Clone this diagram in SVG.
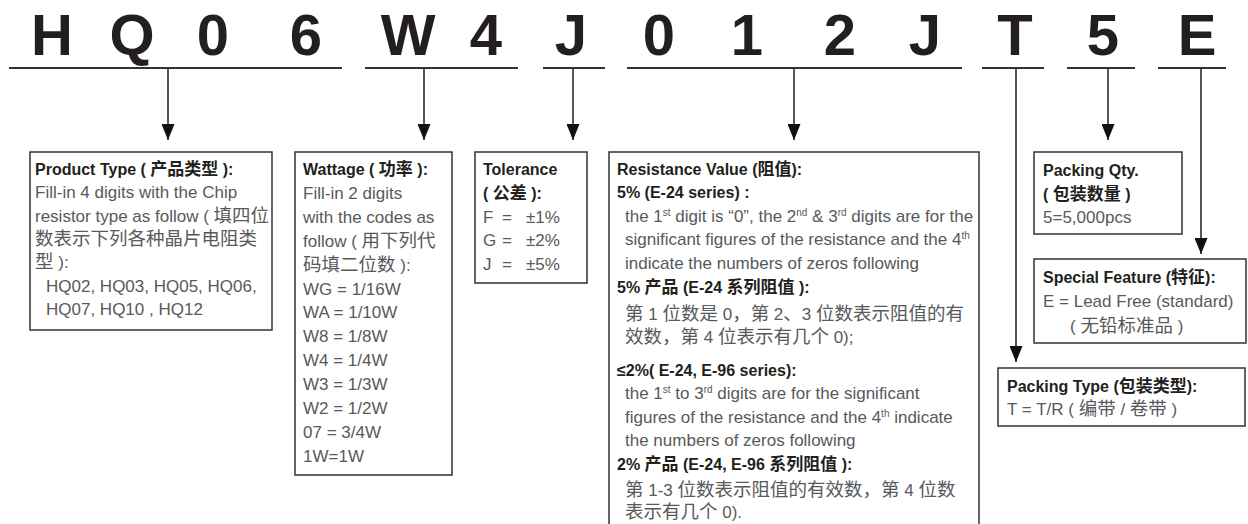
<svg xmlns="http://www.w3.org/2000/svg" width="1248" height="524" viewBox="0 0 1248 524">
<defs>
<marker id="ah" markerUnits="userSpaceOnUse" markerWidth="16" markerHeight="13" viewBox="0 0 16 13" refX="16" refY="6.5" orient="auto">
<path d="M0,0 L16,6.5 L0,13 z" fill="#111"/>
</marker>
</defs>
<style>
.code{font-family:"Liberation Sans","Noto Sans",sans-serif;font-weight:bold;font-size:58px;fill:#231f20;text-anchor:middle}
.ul{stroke:#333;stroke-width:2;fill:none}
.ar{stroke:#111;stroke-width:1.4;fill:none;marker-end:url(#ah)}
.ln{stroke:#111;stroke-width:1.4;fill:none}
.box{fill:#fff;stroke:#333;stroke-width:1.5}
text{font-family:"Liberation Sans","Noto Sans CJK SC",sans-serif}
.b{font-weight:bold;font-size:16px;fill:#231f20}
.t{font-size:17px;fill:#58595b}
.c{font-size:18.5px}
.cb{font-size:17px}
.sup{font-size:10px}
</style>
<rect width="1248" height="524" fill="#fff"/>
<g id="code">
<text class="code" x="52" y="55">H</text>
<text class="code" x="132" y="55">Q</text>
<text class="code" x="213" y="55">0</text>
<text class="code" x="306" y="55">6</text>
<text class="code" x="408" y="55">W</text>
<text class="code" x="486" y="55">4</text>
<text class="code" x="571" y="55">J</text>
<text class="code" x="659" y="55">0</text>
<text class="code" x="747" y="55">1</text>
<text class="code" x="840" y="55">2</text>
<text class="code" x="925" y="55">J</text>
<text class="code" x="1015" y="55">T</text>
<text class="code" x="1103" y="55">5</text>
<text class="code" x="1197" y="55">E</text>
</g>
<g id="connectors">
<line class="ul" x1="9" y1="68" x2="342" y2="68"/>
<line class="ul" x1="365" y1="68" x2="518" y2="68"/>
<line class="ul" x1="543" y1="68" x2="605" y2="68"/>
<line class="ul" x1="627" y1="68" x2="962" y2="68"/>
<line class="ul" x1="982" y1="68" x2="1044" y2="68"/>
<line class="ul" x1="1067" y1="68" x2="1135" y2="68"/>
<line class="ul" x1="1158" y1="68" x2="1226" y2="68"/>
<line class="ar" x1="168" y1="69" x2="168" y2="140"/>
<line class="ar" x1="424" y1="69" x2="424" y2="140"/>
<line class="ar" x1="573" y1="69" x2="573" y2="140"/>
<line class="ar" x1="794" y1="69" x2="794" y2="140"/>
<line class="ar" x1="1016" y1="69" x2="1016" y2="362"/>
<line class="ar" x1="1108" y1="69" x2="1108" y2="140"/>
<line class="ar" x1="1201" y1="69" x2="1201" y2="254"/>
</g>
<g id="product-type">
<rect class="box" x="30" y="152" width="242" height="178"/>
<text class="b" x="35" y="175">Product Type ( <tspan class="cb">产品类型</tspan> ):</text>
<text class="t" x="35" y="198">Fill-in 4 digits with the Chip</text>
<text class="t" x="35" y="222">resistor type as follow ( <tspan class="c">填四位</tspan></text>
<text class="t" x="35" y="245"><tspan class="c">数表示下列各种晶片电阻类</tspan></text>
<text class="t" x="35" y="268"><tspan class="c">型</tspan> ):</text>
<text class="t" x="46" y="292">HQ02, HQ03, HQ05, HQ06,</text>
<text class="t" x="46" y="315">HQ07, HQ10 , HQ12</text>
</g>
<g id="wattage">
<rect class="box" x="295" y="152" width="157" height="323"/>
<text class="b" x="303" y="175">Wattage ( <tspan class="cb">功率</tspan> ):</text>
<text class="t" x="303" y="199">Fill-in 2 digits</text>
<text class="t" x="303" y="223">with the codes as</text>
<text class="t" x="303" y="247">follow ( <tspan class="c">用下列代</tspan></text>
<text class="t" x="303" y="271"><tspan class="c">码填二位数</tspan> ):</text>
<text class="t" x="303" y="295">WG = 1/16W</text>
<text class="t" x="303" y="318">WA = 1/10W</text>
<text class="t" x="303" y="342">W8 = 1/8W</text>
<text class="t" x="303" y="366">W4 = 1/4W</text>
<text class="t" x="303" y="390">W3 = 1/3W</text>
<text class="t" x="303" y="414">W2 = 1/2W</text>
<text class="t" x="303" y="438">07 = 3/4W</text>
<text class="t" x="303" y="462">1W=1W</text>
</g>
<g id="tolerance">
<rect class="box" x="475" y="152" width="112" height="131"/>
<text class="b" x="483" y="175">Tolerance</text>
<text class="b" x="483" y="199">( <tspan class="cb">公差</tspan> ):</text>
<text class="t" x="483" y="223">F<tspan x="502">=</tspan><tspan x="526">±1%</tspan></text>
<text class="t" x="483" y="246">G<tspan x="502">=</tspan><tspan x="526">±2%</tspan></text>
<text class="t" x="483" y="270">J<tspan x="502">=</tspan><tspan x="526">±5%</tspan></text>
</g>
<g id="resistance">
<rect class="box" x="609" y="152" width="370" height="390"/>
<text class="b" x="617" y="175">Resistance Value (<tspan class="cb">阻值</tspan>):</text>
<text class="b" x="617" y="198">5% (E-24 series) :</text>
<text class="t" x="625" y="222">the 1<tspan class="sup" dy="-6">st</tspan><tspan dy="6"> digit is “0”, the 2</tspan><tspan class="sup" dy="-6">nd</tspan><tspan dy="6"> &amp; 3</tspan><tspan class="sup" dy="-6">rd</tspan><tspan dy="6"> digits are for the</tspan></text>
<text class="t" x="625" y="245">significant figures of the resistance and the 4<tspan class="sup" dy="-6">th</tspan></text>
<text class="t" x="625" y="269">indicate the numbers of zeros following</text>
<text class="b" x="617" y="293">5% <tspan class="cb">产品</tspan> (E-24 <tspan class="cb">系列阻值</tspan> ):</text>
<text class="t" x="625" y="320"><tspan class="c">第</tspan> 1 <tspan class="c">位数是</tspan> 0<tspan class="c">，第</tspan> 2<tspan class="c">、</tspan>3 <tspan class="c">位数表示阻值的有</tspan></text>
<text class="t" x="625" y="343"><tspan class="c">效数，第</tspan> 4 <tspan class="c">位表示有几个</tspan> 0);</text>
<text class="b" x="617" y="376">≤2%( E-24, E-96 series):</text>
<text class="t" x="625" y="399">the 1<tspan class="sup" dy="-6">st</tspan><tspan dy="6"> to 3</tspan><tspan class="sup" dy="-6">rd</tspan><tspan dy="6"> digits are for the significant</tspan></text>
<text class="t" x="625" y="423">figures of the resistance and the 4<tspan class="sup" dy="-6">th</tspan><tspan dy="6"> indicate</tspan></text>
<text class="t" x="625" y="446">the numbers of zeros following</text>
<text class="b" x="617" y="470">2% <tspan class="cb">产品</tspan> (E-24, E-96 <tspan class="cb">系列阻值</tspan> ):</text>
<text class="t" x="625" y="496"><tspan class="c">第</tspan> 1-3 <tspan class="c">位数表示阻值的有效数，第</tspan> 4 <tspan class="c">位数</tspan></text>
<text class="t" x="625" y="518"><tspan class="c">表示有几个</tspan> 0).</text>
</g>
<g id="packing-qty">
<rect class="box" x="1034" y="152" width="148" height="82"/>
<text class="b" x="1043" y="176">Packing Qty.</text>
<text class="b" x="1043" y="200">( <tspan class="cb">包装数量</tspan> )</text>
<text class="t" x="1043" y="223">5=5,000pcs</text>
</g>
<g id="special-feature">
<rect class="box" x="1034" y="259" width="212" height="84"/>
<text class="b" x="1043" y="283">Special Feature (<tspan class="cb">特征</tspan>):</text>
<text class="t" x="1043" y="307">E = Lead Free (standard)</text>
<text class="t" x="1070" y="332">( <tspan class="c">无铅标准品</tspan> )</text>
</g>
<g id="packing-type">
<rect class="box" x="998" y="368" width="247" height="58"/>
<text class="b" x="1007" y="392">Packing Type (<tspan class="cb">包装类型</tspan>):</text>
<text class="t" x="1007" y="415">T = T/R ( <tspan class="c">编带</tspan> / <tspan class="c">卷带</tspan> )</text>
</g>
</svg>
